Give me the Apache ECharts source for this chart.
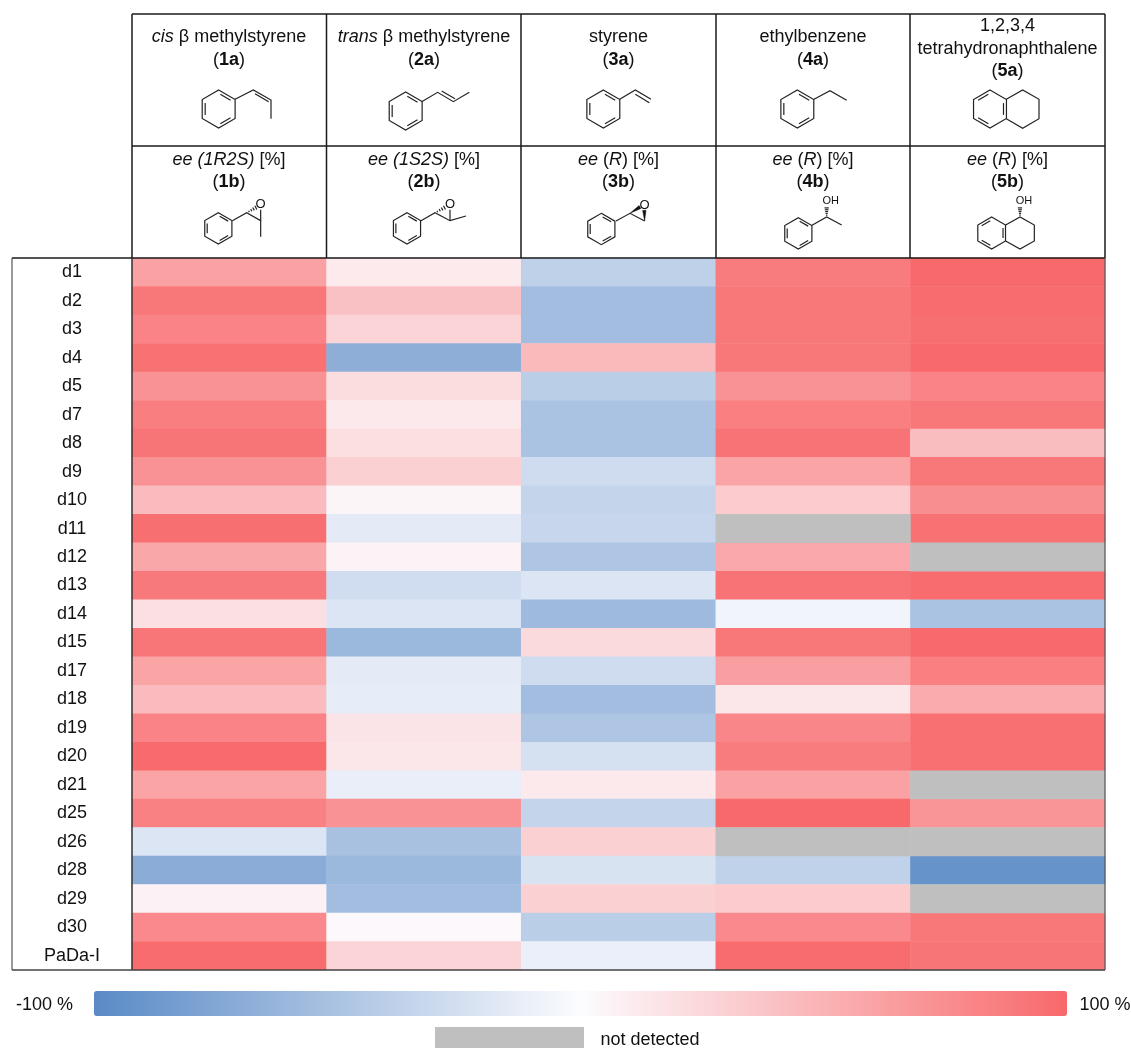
<!DOCTYPE html>
<html>
<head>
<meta charset="utf-8">
<style>html,body{margin:0;padding:0;background:#fff}#c{width:1131px;height:1048px}</style>
<script src="https://cdn.jsdelivr.net/npm/echarts@6/dist/echarts.min.js"></script>
</head>
<body>
<div id="c"></div>
<script>
const enzymes = ['d1','d2','d3','d4','d5','d7','d8','d9','d10','d11','d12','d13','d14','d15','d17','d18','d19','d20','d21','d25','d26','d28','d29','d30','PaDa-I'];
const products = ['1b','2b','3b','4b','5b'];
const ee1b = [62,90,82,94,72,86,92,72,44,96,58,89,19,91,60,44,82,99,60,84,-20,-70,7,78,98];
const ee2b = [12,40,27,-68,21,13,20,30,5,-15,6,-27,-20,-60,-15,-13,16,15,-12,72,-52,-60,-55,3,27];
const ee3b = [-38,-55,-55,45,-40,-50,-50,-28,-35,-33,-48,-20,-58,23,-28,-55,-48,-24,13,-35,30,-22,30,-40,-11];
const ee4b = [88,90,90,90,72,85,93,60,33,null,57,93,-7,90,63,15,80,88,62,100,null,-37,33,78,98];
const ee5b = [100,98,96,100,82,90,43,90,75,94,null,98,-50,100,85,55,95,95,null,70,null,-92,null,90,92];
const columns = [ee1b,ee2b,ee3b,ee4b,ee5b];
const substrateHeaders = [
  ['{i|cis} β methylstyrene','({b|1a})'],
  ['{i|trans} β methylstyrene','({b|2a})'],
  ['styrene','({b|3a})'],
  ['ethylbenzene','({b|4a})'],
  ['1,2,3,4','tetrahydronaphthalene','({b|5a})']
];
const productHeaders = [
  ['{i|ee (1R2S)} [%]','({b|1b})'],
  ['{i|ee (1S2S)} [%]','({b|2b})'],
  ['{i|ee} ({i|R}) [%]','({b|3b})'],
  ['{i|ee} ({i|R}) [%]','({b|4b})'],
  ['{i|ee} ({i|R}) [%]','({b|5b})']
];
const cells = [], missing = [];
columns.forEach((col,x)=>col.forEach((v,y)=>{ if(v===null) missing.push([x,y,0]); else cells.push([x,y,v]); }));

const FONT = '"Liberation Sans",Arial,sans-serif';
const INK = '#1a1a1a';
const G = [];
const colX = [132,326.5,521,716,910,1105];
const colC = [229,424,618.5,813,1007.5];
const FS = 18;

function rule(x1,y1,x2,y2,color,w){
  G.push({type:'line',z:100,silent:true,shape:{x1,y1,x2,y2},style:{stroke:color||INK,lineWidth:w||1.5}});
}
function label(text,x,y,size,extra){
  G.push({type:'text',z:101,silent:true,x,y,style:Object.assign({
    text,fontFamily:FONT,fontSize:size||FS,fill:'#111',align:'center',verticalAlign:'middle',
    rich:{i:{fontStyle:'italic',fontSize:size||FS,fontFamily:FONT,fill:'#111'},b:{fontWeight:'bold',fontSize:size||FS,fontFamily:FONT,fill:'#111'}}
  },extra||{})});
}
// table frame
rule(132,14,1105,14); rule(132,146,1105,146); rule(12,258,1105,258);
colX.forEach(x=>rule(x,14,x,258));
rule(132,258,132,970,'#333');
rule(12,258,12,970,'#555',1.2);
rule(12,970,1105,970,'#444',1.5);
rule(1105,258,1105,970,'#555',1.2);
// header text
const lineYTop2 = [37,60], lineYTop3 = [26,49,71], lineYBot = [160,182];
substrateHeaders.forEach((lines,i)=>{
  const ys = lines.length===3?lineYTop3:lineYTop2;
  lines.forEach((t,k)=>label(t,colC[i],ys[k]));
});
productHeaders.forEach((lines,i)=>lines.forEach((t,k)=>label(t,colC[i],lineYBot[k])));

// molecule sketches: coordinates are in zoomed-crop units (3x) relative to a crop origin
function mol(ox,oy){
  const P=(x,y)=>[ox+x/3,oy+y/3];
  const poly=(pts,closed)=>G.push({type:closed?'polygon':'polyline',z:100,silent:true,shape:{points:pts.map(p=>P(p[0],p[1]))},style:{stroke:'#222',fill:null,lineWidth:1.2}});
  const api={
    poly,
    ring(cx,cy,r,skip){
      const h=r*0.866, v=[[cx,cy-r],[cx+h,cy-r/2],[cx+h,cy+r/2],[cx,cy+r],[cx-h,cy+r/2],[cx-h,cy-r/2]];
      poly(v,true);
      const bonds=skip==='right'?[[1,2],[3,4],[5,0]]:[[0,1],[2,3],[4,5]];
      bonds.forEach(([a,b])=>{
        const f=0.82, t=0.12;
        const A=[cx+(v[a][0]-cx)*f,cy+(v[a][1]-cy)*f], B=[cx+(v[b][0]-cx)*f,cy+(v[b][1]-cy)*f];
        const d=[B[0]-A[0],B[1]-A[1]];
        poly([[A[0]+d[0]*t,A[1]+d[1]*t],[B[0]-d[0]*t,B[1]-d[1]*t]]);
      });
    },
    hash(a,b,n){
      n=n||5;
      const dx=b[0]-a[0],dy=b[1]-a[1],L=Math.hypot(dx,dy),nx=-dy/L,ny=dx/L;
      for(let i=1;i<=n;i++){
        const t=i/(n+0.5),w=1+t*6,x=a[0]+dx*t,y=a[1]+dy*t;
        poly([[x-nx*w,y-ny*w],[x+nx*w,y+ny*w]]);
      }
    },
    wedge(a,b,w){
      const dx=b[0]-a[0],dy=b[1]-a[1],L=Math.hypot(dx,dy),nx=-dy/L,ny=dx/L;
      G.push({type:'polygon',z:100,silent:true,shape:{points:[P(a[0],a[1]),P(b[0]+nx*w,b[1]+ny*w),P(b[0]-nx*w,b[1]-ny*w)]},style:{fill:'#111',stroke:'#111',lineWidth:0.5}});
    },
    atom(t,x,y,size){const p=P(x,y);label(t,p[0],p[1],size||11);}
  };
  return api;
}
let m=mol(125,5);
m.ring(281,312,57);
m.poly([[330,283],[385,255],[438,285],[438,341]]); m.poly([[390,266],[431,290]]);
m.ring(842,318,57);
m.poly([[890,290],[938,262],[985,290],[1033,262]]); m.poly([[950,258],[990,281]]);
m.ring(280,670,47);
m.poly([[322,647],[365,623],[407,647],[407,695]]);
m.hash([365,623],[396,606],4); m.poly([[407,647],[407,614]]);
m.atom('O',407,598,13);
m.ring(846,670,47);
m.poly([[888,647],[930,623],[975,647],[1023,633]]);
m.hash([930,623],[962,606],4); m.poly([[975,647],[975,614]]);
m.atom('O',975,598,13);

m=mol(520,5);
m.ring(250,312,57);
m.poly([[299,283],[346,255],[393,283]]); m.poly([[346,268],[388,293]]);
m.ring(832,312,57);
m.poly([[882,283],[930,257],[980,286]]);
m.ring(244,672,47);
m.poly([[288,648],[330,625],[374,648]]);
m.wedge([330,625],[360,606],5); m.wedge([374,648],[373,616],5);
m.atom('O',374,600,13);
m.ring(835,685,47);
m.poly([[876,661],[920,636],[965,660]]);
m.hash([920,636],[920,606],5);
m.atom('OH',932,588,11);

m=mol(900,5);
m.ring(270,312,57,'right');
m.poly([[319,283],[368,255],[417,283],[417,341],[368,370],[319,341]]);
m.ring(275,684,48,'right');
m.poly([[317,660],[360,636],[403,660],[403,708],[360,732],[317,708]]);
m.hash([360,636],[360,606],5);
m.atom('OH',372,588,11);

// legend
label('-100 %',44.5,1005);
label('100 %',1105,1005);
G.push({type:'rect',z:100,silent:true,shape:{x:435,y:1027,width:149,height:21},style:{fill:'#BFBFBF'}});
label('not detected',650,1040);

const chart = echarts.init(document.getElementById('c'),null,{renderer:'canvas'});
chart.setOption({
  animation:false,
  backgroundColor:'#fff',
  textStyle:{fontFamily:FONT},
  tooltip:{show:false},
  grid:{left:132,top:258,width:973,height:712,containLabel:false},
  xAxis:{type:'category',data:products,position:'top',axisLine:{show:false},axisTick:{show:false},axisLabel:{show:false},splitLine:{show:false}},
  yAxis:{type:'category',data:enzymes,inverse:true,axisLine:{show:false},axisTick:{show:false},splitLine:{show:false},
    axisLabel:{color:'#111',fontSize:FS,fontFamily:FONT,align:'center',margin:60,interval:0,padding:[2,0,0,0]}},
  visualMap:[
    {type:'continuous',seriesIndex:0,min:-100,max:100,orient:'horizontal',left:94,top:991,itemWidth:25,itemHeight:973,padding:0,
     calculable:false,hoverLink:false,showLabel:false,text:null,borderRadius:0,
     inRange:{color:['#5A8AC6','#FCFCFF','#F8696B']}},
    {type:'continuous',seriesIndex:1,show:false,min:0,max:1,inRange:{color:['#BFBFBF','#BFBFBF']}}
  ],
  series:[
    {type:'heatmap',name:'ee',data:cells,silent:true,itemStyle:{borderWidth:0},emphasis:{disabled:true},progressive:0},
    {type:'heatmap',name:'not detected',data:missing,silent:true,itemStyle:{borderWidth:0},emphasis:{disabled:true},progressive:0}
  ],
  graphic:{elements:G}
});
</script>
</body>
</html>
